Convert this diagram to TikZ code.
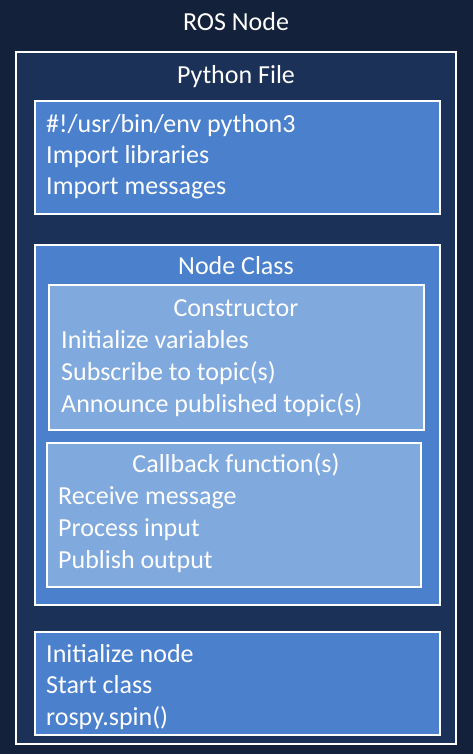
\documentclass[tikz,border=0pt]{standalone}
\usepackage{fontspec}
\setmainfont{Carlito}
\usetikzlibrary{positioning}

\definecolor{navybg}{HTML}{14213A}
\definecolor{filebg}{HTML}{1B3157}
\definecolor{midblue}{HTML}{4A80CC}
\definecolor{lightblue}{HTML}{80A9DE}

\tikzset{
  box/.style={draw=white, line width=2pt},
  title/.style={text=white, font=\fontsize{26}{30}\selectfont, text height=18pt, text depth=1pt, inner sep=0pt},
  line/.style={title, anchor=west}
}

\begin{document}
\begin{tikzpicture}[x=1pt, y=-1pt]

\useasboundingbox (0,0) rectangle (473,754);
\fill[navybg] (0,0) rectangle (473,754);

%ROS node and file
\node[title] (ros) at (236,22) {ROS Node};
\draw[box, fill=filebg] (16,52) rectangle (456,744);
\node[title] (file) at (236,75) {Python File};

%header
\draw[box, fill=midblue] (35,101) rectangle (440,214);
\node[line] (shebang) at (46,124) {\#!/usr/bin/env python3};
\node[line] (libs) at (46,155) {Import libraries};
\node[line] (msgs) at (46,186) {Import messages};

%class
\draw[box, fill=midblue] (35,245) rectangle (440,605);
\node[title] (cls) at (236,266) {Node Class};

\draw[box, fill=lightblue] (49,285) rectangle (424,430);
\node[title] (ctor) at (236,308) {Constructor};
\node[line] (vars) at (61,340) {Initialize variables};
\node[line] (subs) at (61,372) {Subscribe to topic(s)};
\node[line] (pubs) at (61,404) {Announce published topic(s)};

\draw[box, fill=lightblue] (47,443) rectangle (421,587);
\node[title] (cb) at (236,464) {Callback function(s)};
\node[line] (recv) at (58,496) {Receive message};
\node[line] (proc) at (58,528) {Process input};
\node[line] (publ) at (58,560) {Publish output};

%main
\draw[box, fill=midblue] (35,632) rectangle (440,735);
\node[line] (init) at (46,654) {Initialize node};
\node[line] (start) at (46,685) {Start class};
\node[line] (spin) at (46,717) {rospy.spin()};

\end{tikzpicture}
\end{document}
